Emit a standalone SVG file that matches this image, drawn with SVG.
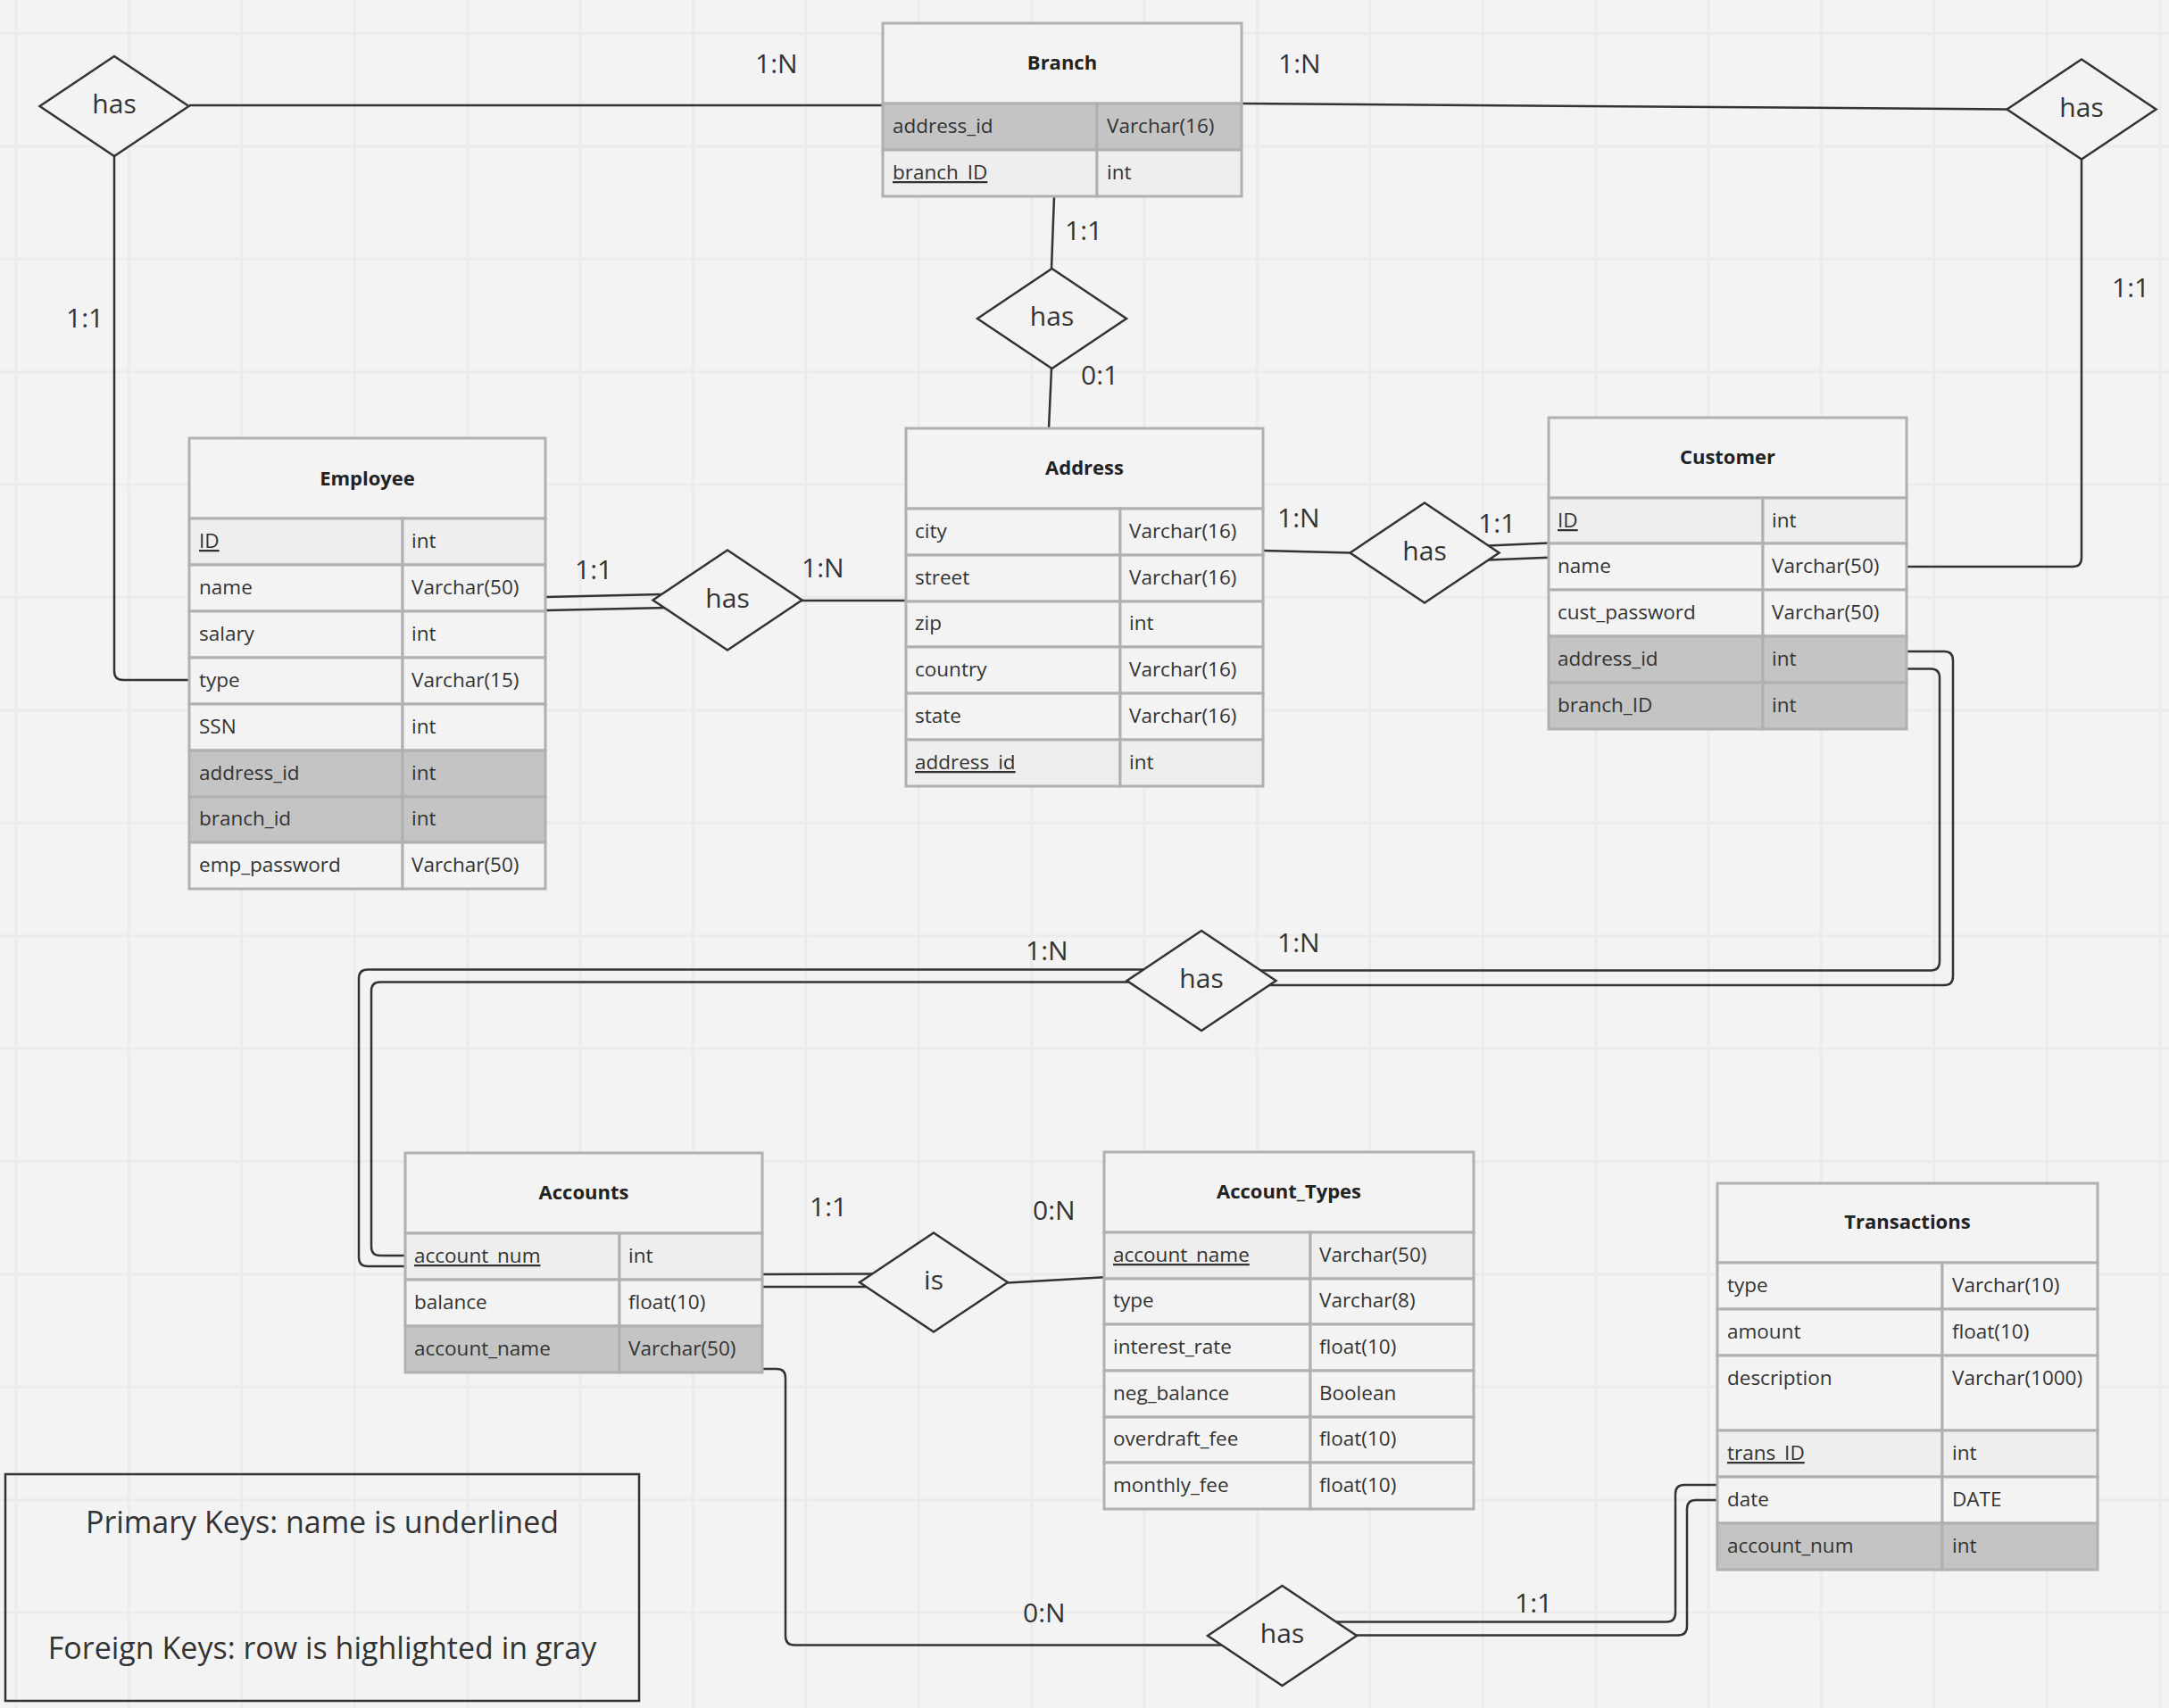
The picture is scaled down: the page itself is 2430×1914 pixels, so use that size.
<svg xmlns="http://www.w3.org/2000/svg" width="2430" height="1914" viewBox="0 0 2430 1914">
<defs>
<pattern id="grid" patternUnits="userSpaceOnUse" x="16.5" y="36" width="126.4" height="126.4">
<path d="M0,1.5 H126.4 M1.5,0 V126.4" stroke="#ebebeb" stroke-width="3" fill="none"/>
</pattern>
</defs>
<style>
.bg{fill:#f3f3f3}
.hdr{fill:#f3f3f3;stroke:#b0b0b0;stroke-width:3}
.row{fill:#f3f3f3;stroke:#b0b0b0;stroke-width:3}
.pk{fill:#eeeeee;stroke:#b0b0b0;stroke-width:3}
.fk{fill:#c4c4c4;stroke:#b0b0b0;stroke-width:3}
.ht{font-family:"Open Sans","Noto Sans",sans-serif;font-weight:bold;font-size:22px;fill:#222;text-anchor:middle}
.t{font-family:"Open Sans","Noto Sans",sans-serif;font-size:22.5px;fill:#333}
.u{text-decoration:underline}
.dia{fill:#f3f3f3;stroke:#333;stroke-width:2.5}
.dt{font-family:"Open Sans","Noto Sans",sans-serif;font-size:30px;fill:#333;text-anchor:middle}
.lb{font-family:"Open Sans","Noto Sans",sans-serif;font-size:30px;fill:#333}
.ln{fill:none;stroke:#333;stroke-width:2.5}
.lg{font-family:"Open Sans","Noto Sans",sans-serif;font-size:34px;fill:#333;text-anchor:middle}
</style>
<rect class="bg" x="0" y="0" width="2430" height="1914"/>
<rect x="0" y="0" width="2430" height="1914" fill="url(#grid)"/>

<g id="connectors">
<path class="ln" d="M212,118 L989,118"/>
<path class="ln" d="M1391,116 L2249,122.5"/>
<path class="ln" d="M128,175 L128,752 Q128,762 138,762 L212,762"/>
<path class="ln" d="M2332,179 L2332,625 Q2332,635 2322,635 L2136,635"/>
<path class="ln" d="M1181,220 L1178,301"/>
<path class="ln" d="M1178,413 L1175,480"/>
<path class="ln" d="M611,669 L741,666"/>
<path class="ln" d="M611,684 L748,681"/>
<path class="ln" d="M898,673 L1015,673"/>
<path class="ln" d="M1415,617 L1513,619.5"/>
<path class="ln" d="M1667,611.5 L1735,608.5"/>
<path class="ln" d="M1667,627.5 L1735,624.8"/>
<path class="ln" d="M2136,730 L2178,730 Q2188,730 2188,740 L2188,1094 Q2188,1104 2178,1104 L1421,1104"/>
<path class="ln" d="M2136,749.5 L2163,749.5 Q2173,749.5 2173,759.5 L2173,1077.5 Q2173,1087.5 2163,1087.5 L1412,1087.5"/>
<path class="ln" d="M1281,1086.5 L412,1086.5 Q402,1086.5 402,1096.5 L402,1409 Q402,1419 412,1419 L454,1419"/>
<path class="ln" d="M1265,1100.5 L426,1100.5 Q416,1100.5 416,1110.5 L416,1397 Q416,1407 426,1407 L454,1407"/>
<path class="ln" d="M854,1428 L977,1427.5"/>
<path class="ln" d="M854,1442 L971,1442"/>
<path class="ln" d="M1129,1437.5 L1237,1431.3"/>
<path class="ln" d="M854,1534 L870,1534 Q880,1534 880,1544 L880,1833.5 Q880,1843.5 890,1843.5 L1369,1843.5"/>
<path class="ln" d="M1496,1817.5 L1867,1817.5 Q1877,1817.5 1877,1807.5 L1877,1674 Q1877,1664 1887,1664 L1924,1664"/>
<path class="ln" d="M1515,1832.5 L1880,1832.5 Q1890,1832.5 1890,1822.5 L1890,1691 Q1890,1681 1900,1681 L1924,1681"/>
</g>

<g id="labels">
<text class="lb" x="846" y="82">1:N</text>
<text class="lb" x="1432" y="82">1:N</text>
<text class="lb" x="74" y="367">1:1</text>
<text class="lb" x="2366" y="333">1:1</text>
<text class="lb" x="1193" y="269">1:1</text>
<text class="lb" x="1211" y="431">0:1</text>
<text class="lb" x="644" y="649">1:1</text>
<text class="lb" x="898" y="647">1:N</text>
<text class="lb" x="1431" y="591">1:N</text>
<text class="lb" x="1656" y="597">1:1</text>
<text class="lb" x="1431" y="1067">1:N</text>
<text class="lb" x="1149" y="1076">1:N</text>
<text class="lb" x="907" y="1363">1:1</text>
<text class="lb" x="1157" y="1367">0:N</text>
<text class="lb" x="1146" y="1818">0:N</text>
<text class="lb" x="1697" y="1807">1:1</text>
</g>

<g id="rel-branch-employee"><polygon class="dia" points="44.5,119 128,63 211.5,119 128,175"/><text class="dt" x="128" y="127">has</text></g>
<g id="rel-branch-address"><polygon class="dia" points="1095,357 1178.5,301 1262,357 1178.5,413"/><text class="dt" x="1178.5" y="365">has</text></g>
<g id="rel-branch-customer"><polygon class="dia" points="2248.5,122.5 2332,66.5 2415.5,122.5 2332,178.5"/><text class="dt" x="2332" y="130.5">has</text></g>
<g id="rel-employee-address"><polygon class="dia" points="731.5,672.5 815,616.5 898.5,672.5 815,728.5"/><text class="dt" x="815" y="680.5">has</text></g>
<g id="rel-address-customer"><polygon class="dia" points="1512.5,619.5 1596,563.5 1679.5,619.5 1596,675.5"/><text class="dt" x="1596" y="627.5">has</text></g>
<g id="rel-customer-accounts"><polygon class="dia" points="1262.5,1099 1346,1043 1429.5,1099 1346,1155"/><text class="dt" x="1346" y="1107">has</text></g>
<g id="rel-accounts-types"><polygon class="dia" points="963,1437 1046,1381.5 1129,1437 1046,1492.5"/><text class="dt" x="1046" y="1445">is</text></g>
<g id="rel-accounts-transactions"><polygon class="dia" points="1353,1833 1436.5,1777 1520,1833 1436.5,1889"/><text class="dt" x="1436.5" y="1841">has</text></g>

<g id="Branch">
<rect class="hdr" x="989" y="26" width="402" height="90"/>
<text class="ht" x="1190" y="78">Branch</text>
<rect class="fk" x="989" y="116" width="240" height="52"/><rect class="fk" x="1229" y="116" width="162" height="52"/>
<text class="t" x="1000" y="149">address_id</text><text class="t" x="1240" y="149">Varchar(16)</text>
<rect class="pk" x="989" y="168" width="240" height="52"/><rect class="pk" x="1229" y="168" width="162" height="52"/>
<text class="t u" x="1000" y="201">branch_ID</text><text class="t" x="1240" y="201">int</text>
</g>

<g id="Employee">
<rect class="hdr" x="212" y="491" width="399" height="90"/>
<text class="ht" x="411.5" y="544">Employee</text>
<rect class="pk" x="212" y="581" width="239" height="52"/><rect class="pk" x="451" y="581" width="160" height="52"/>
<text class="t u" x="223" y="614">ID</text><text class="t" x="461" y="614">int</text>
<rect class="row" x="212" y="633" width="239" height="52"/><rect class="row" x="451" y="633" width="160" height="52"/>
<text class="t" x="223" y="666">name</text><text class="t" x="461" y="666">Varchar(50)</text>
<rect class="row" x="212" y="685" width="239" height="52"/><rect class="row" x="451" y="685" width="160" height="52"/>
<text class="t" x="223" y="718">salary</text><text class="t" x="461" y="718">int</text>
<rect class="row" x="212" y="737" width="239" height="52"/><rect class="row" x="451" y="737" width="160" height="52"/>
<text class="t" x="223" y="770">type</text><text class="t" x="461" y="770">Varchar(15)</text>
<rect class="row" x="212" y="789" width="239" height="52"/><rect class="row" x="451" y="789" width="160" height="52"/>
<text class="t" x="223" y="822">SSN</text><text class="t" x="461" y="822">int</text>
<rect class="fk" x="212" y="841" width="239" height="52"/><rect class="fk" x="451" y="841" width="160" height="52"/>
<text class="t" x="223" y="874">address_id</text><text class="t" x="461" y="874">int</text>
<rect class="fk" x="212" y="893" width="239" height="51"/><rect class="fk" x="451" y="893" width="160" height="51"/>
<text class="t" x="223" y="925">branch_id</text><text class="t" x="461" y="925">int</text>
<rect class="row" x="212" y="944" width="239" height="52"/><rect class="row" x="451" y="944" width="160" height="52"/>
<text class="t" x="223" y="977">emp_password</text><text class="t" x="461" y="977">Varchar(50)</text>
</g>

<g id="Address">
<rect class="hdr" x="1015" y="480" width="400" height="90"/>
<text class="ht" x="1215" y="532">Address</text>
<rect class="row" x="1015" y="570" width="240" height="52"/><rect class="row" x="1255" y="570" width="160" height="52"/>
<text class="t" x="1025" y="603">city</text><text class="t" x="1265" y="603">Varchar(16)</text>
<rect class="row" x="1015" y="622" width="240" height="52"/><rect class="row" x="1255" y="622" width="160" height="52"/>
<text class="t" x="1025" y="655">street</text><text class="t" x="1265" y="655">Varchar(16)</text>
<rect class="row" x="1015" y="674" width="240" height="51"/><rect class="row" x="1255" y="674" width="160" height="51"/>
<text class="t" x="1025" y="706">zip</text><text class="t" x="1265" y="706">int</text>
<rect class="row" x="1015" y="725" width="240" height="52"/><rect class="row" x="1255" y="725" width="160" height="52"/>
<text class="t" x="1025" y="758">country</text><text class="t" x="1265" y="758">Varchar(16)</text>
<rect class="row" x="1015" y="777" width="240" height="52"/><rect class="row" x="1255" y="777" width="160" height="52"/>
<text class="t" x="1025" y="810">state</text><text class="t" x="1265" y="810">Varchar(16)</text>
<rect class="pk" x="1015" y="829" width="240" height="52"/><rect class="pk" x="1255" y="829" width="160" height="52"/>
<text class="t u" x="1025" y="862">address_id</text><text class="t" x="1265" y="862">int</text>
</g>

<g id="Customer">
<rect class="hdr" x="1735" y="468" width="401" height="90"/>
<text class="ht" x="1935.5" y="520">Customer</text>
<rect class="pk" x="1735" y="558" width="240" height="51"/><rect class="pk" x="1975" y="558" width="161" height="51"/>
<text class="t u" x="1745" y="591">ID</text><text class="t" x="1985" y="591">int</text>
<rect class="row" x="1735" y="609" width="240" height="52"/><rect class="row" x="1975" y="609" width="161" height="52"/>
<text class="t" x="1745" y="642">name</text><text class="t" x="1985" y="642">Varchar(50)</text>
<rect class="row" x="1735" y="661" width="240" height="52"/><rect class="row" x="1975" y="661" width="161" height="52"/>
<text class="t" x="1745" y="694">cust_password</text><text class="t" x="1985" y="694">Varchar(50)</text>
<rect class="fk" x="1735" y="713" width="240" height="52"/><rect class="fk" x="1975" y="713" width="161" height="52"/>
<text class="t" x="1745" y="746">address_id</text><text class="t" x="1985" y="746">int</text>
<rect class="fk" x="1735" y="765" width="240" height="52"/><rect class="fk" x="1975" y="765" width="161" height="52"/>
<text class="t" x="1745" y="798">branch_ID</text><text class="t" x="1985" y="798">int</text>
</g>

<g id="Accounts">
<rect class="hdr" x="454" y="1292" width="400" height="90"/>
<text class="ht" x="654" y="1344">Accounts</text>
<rect class="pk" x="454" y="1382" width="240" height="52"/><rect class="pk" x="694" y="1382" width="160" height="52"/>
<text class="t u" x="464" y="1415">account_num</text><text class="t" x="704" y="1415">int</text>
<rect class="row" x="454" y="1434" width="240" height="52"/><rect class="row" x="694" y="1434" width="160" height="52"/>
<text class="t" x="464" y="1467">balance</text><text class="t" x="704" y="1467">float(10)</text>
<rect class="fk" x="454" y="1486" width="240" height="52"/><rect class="fk" x="694" y="1486" width="160" height="52"/>
<text class="t" x="464" y="1519">account_name</text><text class="t" x="704" y="1519">Varchar(50)</text>
</g>

<g id="Account_Types">
<rect class="hdr" x="1237" y="1291" width="414" height="90"/>
<text class="ht" x="1444" y="1343">Account_Types</text>
<rect class="pk" x="1237" y="1381" width="231" height="52"/><rect class="pk" x="1468" y="1381" width="183" height="52"/>
<text class="t u" x="1247" y="1414">account_name</text><text class="t" x="1478" y="1414">Varchar(50)</text>
<rect class="row" x="1237" y="1433" width="231" height="51"/><rect class="row" x="1468" y="1433" width="183" height="51"/>
<text class="t" x="1247" y="1465">type</text><text class="t" x="1478" y="1465">Varchar(8)</text>
<rect class="row" x="1237" y="1484" width="231" height="52"/><rect class="row" x="1468" y="1484" width="183" height="52"/>
<text class="t" x="1247" y="1517">interest_rate</text><text class="t" x="1478" y="1517">float(10)</text>
<rect class="row" x="1237" y="1536" width="231" height="52"/><rect class="row" x="1468" y="1536" width="183" height="52"/>
<text class="t" x="1247" y="1569">neg_balance</text><text class="t" x="1478" y="1569">Boolean</text>
<rect class="row" x="1237" y="1588" width="231" height="51"/><rect class="row" x="1468" y="1588" width="183" height="51"/>
<text class="t" x="1247" y="1620">overdraft_fee</text><text class="t" x="1478" y="1620">float(10)</text>
<rect class="row" x="1237" y="1639" width="231" height="52"/><rect class="row" x="1468" y="1639" width="183" height="52"/>
<text class="t" x="1247" y="1672">monthly_fee</text><text class="t" x="1478" y="1672">float(10)</text>
</g>

<g id="Transactions">
<rect class="hdr" x="1924" y="1326" width="426" height="89"/>
<text class="ht" x="2137" y="1377">Transactions</text>
<rect class="row" x="1924" y="1415" width="252" height="52"/><rect class="row" x="2176" y="1415" width="174" height="52"/>
<text class="t" x="1935" y="1448">type</text><text class="t" x="2187" y="1448">Varchar(10)</text>
<rect class="row" x="1924" y="1467" width="252" height="52"/><rect class="row" x="2176" y="1467" width="174" height="52"/>
<text class="t" x="1935" y="1500">amount</text><text class="t" x="2187" y="1500">float(10)</text>
<rect class="row" x="1924" y="1519" width="252" height="84"/><rect class="row" x="2176" y="1519" width="174" height="84"/>
<text class="t" x="1935" y="1552">description</text><text class="t" x="2187" y="1552">Varchar(1000)</text>
<rect class="pk" x="1924" y="1603" width="252" height="52"/><rect class="pk" x="2176" y="1603" width="174" height="52"/>
<text class="t u" x="1935" y="1636">trans_ID</text><text class="t" x="2187" y="1636">int</text>
<rect class="row" x="1924" y="1655" width="252" height="52"/><rect class="row" x="2176" y="1655" width="174" height="52"/>
<text class="t" x="1935" y="1688">date</text><text class="t" x="2187" y="1688">DATE</text>
<rect class="fk" x="1924" y="1707" width="252" height="52"/><rect class="fk" x="2176" y="1707" width="174" height="52"/>
<text class="t" x="1935" y="1740">account_num</text><text class="t" x="2187" y="1740">int</text>
</g>

<g id="legend">
<rect x="6" y="1652" width="710" height="254" fill="none" stroke="#333" stroke-width="2.5"/>
<text class="lg" x="361" y="1718">Primary Keys: name is underlined</text>
<text class="lg" x="361" y="1859">Foreign Keys: row is highlighted in gray</text>
</g>
</svg>
